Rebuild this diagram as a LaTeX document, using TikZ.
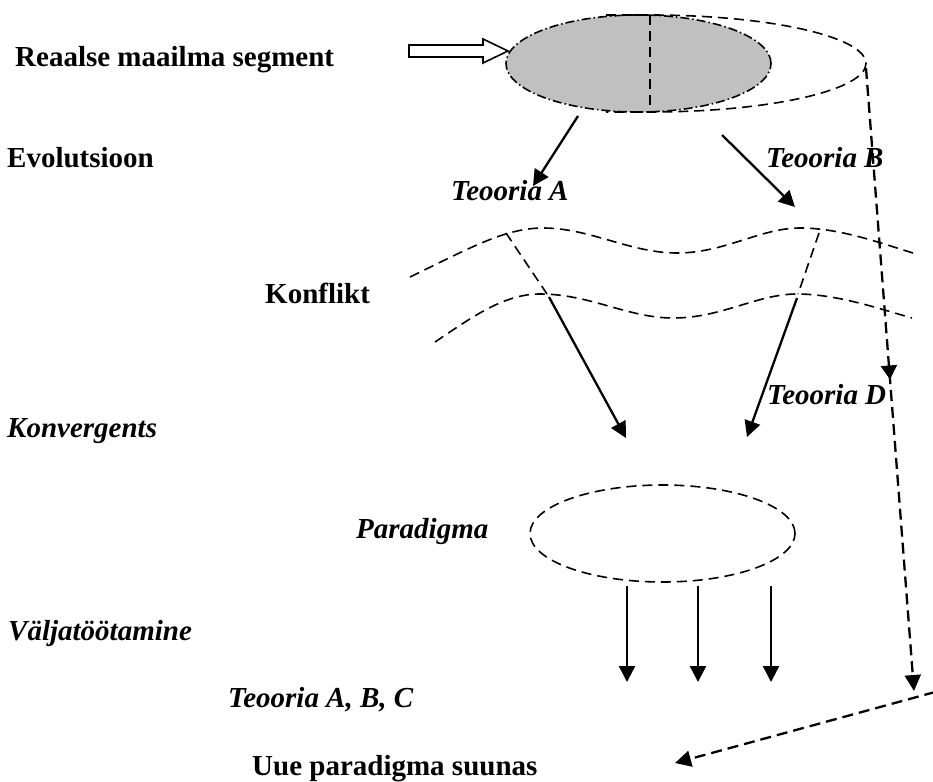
\documentclass[tikz,border=0pt]{standalone}
\usepackage{fontspec}
\setmainfont{Liberation Serif}
\usetikzlibrary{arrows.meta,decorations.markings,shapes.geometric}

\begin{document}
\begin{tikzpicture}[x=1pt,y=-1pt,
  lbl/.style={inner sep=0pt, anchor=base west, font=\fontsize{29}{34}\selectfont\bfseries},
  lbli/.style={inner sep=0pt, anchor=base west, font=\fontsize{29}{34}\selectfont\bfseries\itshape},
  tip/.style={-{Triangle[length=16pt,width=16pt]}},
  solidarrow/.style={line width=2.3pt, tip},
  thindash/.style={line width=1.6pt, dash pattern=on 10pt off 6pt},
  thickdash/.style={line width=2.3pt, dash pattern=on 11pt off 6pt},
  dashdot/.style={line width=1.6pt, dash pattern=on 9pt off 3pt on 1.5pt off 3pt},
  oval/.style={ellipse, minimum width=265pt, minimum height=97pt, inner sep=0pt},
  midtip/.style={postaction={decorate}, decoration={markings,
      mark=at position 0.5 with {\arrow{Triangle[length=14pt,width=16pt]}}}},
]
\useasboundingbox (0,0) rectangle (933,781);

% --- real-world segment and its cylinder outline ---
\node[oval, fill={rgb,255:red,192;green,192;blue,192}, draw, dashdot] (world) at (638.5,63.5) {};
\coordinate (wtop) at (650,15);
\coordinate (wbot) at (650,108);
\draw[thindash] (wtop) -- (wbot);
\coordinate (cylL) at (606,15);
\coordinate (cylB) at (606,112);
\draw[thindash] (cylL) -- (wtop) arc[start angle=90, end angle=-90, x radius=216pt, y radius=48.5pt] -- (cylB);

% hollow input arrow
\draw[line width=1.6pt, fill=white] (409,45) -- (483,45) -- (483,39) -- (508,51)
  -- (483,63) -- (483,57) -- (409,57) -- cycle;

% --- labels ---
\node[lbl]  (seg)  at (15,67)  {Reaalse maailma segment};
\node[lbl]  (evo)  at (7,167)  {Evolutsioon};
\node[lbli] (ta)   at (451,200) {Teooria A};
\node[lbli] (tb)   at (766,167) {Teooria B};
\node[lbl]  (konf) at (265,303) {Konflikt};
\node[lbli] (konv) at (7,437)  {Konvergents};
\node[lbli] (td)   at (767,404) {Teooria D};
\node[lbli] (para) at (356,538) {Paradigma};
\node[lbli] (valj) at (8,640)  {Väljatöötamine};
\node[lbli] (tabc) at (228,707) {Teooria A, B, C};
\node[lbl]  (uue)  at (252,775) {Uue paradigma suunas};

% --- evolution arrows ---
\coordinate (a1s) at (578,116);
\coordinate (a1e) at (533,186);
\coordinate (a2s) at (722,135);
\coordinate (a2e) at (795,207);
\draw[solidarrow] (a1s) -- (a1e);
\draw[solidarrow] (a2s) -- (a2e);

% --- conflict zone ---
\draw[thindash] (410,277) .. controls (470,248) and (505,228) .. (543,228)
  .. controls (590,228) and (630,253) .. (677,253)
  .. controls (725,253) and (760,228) .. (800,228)
  .. controls (840,228) and (880,243) .. (913,253);
\draw[thindash] (435,342) .. controls (475,315) and (505,294) .. (540,294)
  .. controls (590,294) and (628,318) .. (673,318)
  .. controls (722,318) and (757,294) .. (797,294)
  .. controls (837,294) and (880,309) .. (912,318);
\coordinate (c1t) at (506,233);
\coordinate (c1b) at (547,294);
\coordinate (c2t) at (819,233);
\coordinate (c2b) at (798,294);
\draw[thindash] (c1t) -- (c1b);
\draw[thindash] (c2t) -- (c2b);

% --- convergence arrows ---
\coordinate (k1s) at (549,297);
\coordinate (k1e) at (626,438);
\coordinate (k2s) at (797,298);
\coordinate (k2e) at (747,437);
\draw[solidarrow] (k1s) -- (k1e);
\draw[solidarrow] (k2s) -- (k2e);

% --- paradigm and its elaborations ---
\node[oval, draw, thindash] (pd) at (662.5,533.5) {};
\foreach \x/\n in {627/1, 698/2, 771/3} {
  \coordinate (p\n s) at (\x,586);
  \coordinate (p\n e) at (\x,682);
  \draw[solidarrow] (p\n s) -- (p\n e);
}

% --- path towards a new paradigm ---
\coordinate (rs) at (866,68);
\coordinate (re) at (914,691);
\draw[thickdash, tip, midtip] (rs) -- (re);
\coordinate (bs) at (935,692);
\coordinate (be) at (675,763);
\draw[thickdash, tip] (bs) -- (be);
\end{tikzpicture}
\end{document}
